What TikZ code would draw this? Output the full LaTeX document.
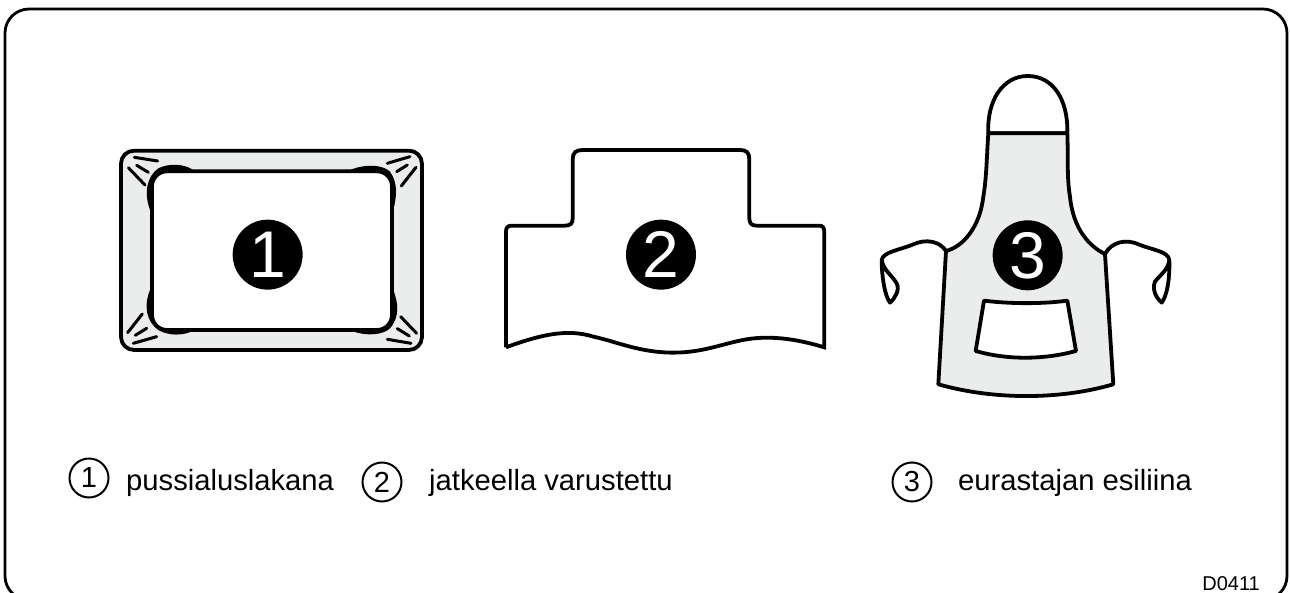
\documentclass[tikz,border=0pt]{standalone}
\usepackage{fontspec}
\setmainfont{Liberation Sans}
\definecolor{apron}{HTML}{EBEDEC}
\tikzset{
  ink/.style={line width=3.8pt,line join=round,line cap=round},
  wrinkle/.style={line width=3pt,line cap=round},
  badge/.style={circle,fill=black,text=white,minimum size=70pt,inner sep=0pt,font=\fontsize{66}{66}\selectfont},
  keyring/.style={circle,draw=black,line width=2pt,minimum size=39pt,inner sep=0pt,font=\fontsize{29}{29}\selectfont},
  keytext/.style={anchor=base west,inner sep=0pt,font=\fontsize{29.2}{29.2}\selectfont}
}
\begin{document}
\begin{tikzpicture}[x=1pt,y=-1pt]
\useasboundingbox (0,0) rectangle (1290,593);
\draw[line width=2.8pt,rounded corners=24pt] (5,9) rectangle (1287,600);
% fig 1
\begin{scope}[shift={(100,130)},x=0.3333pt,y=-0.3333pt]
\draw[ink,fill=apron,rounded corners=13pt] (63,62) rectangle (966,660);
\fill (152,245) .. controls (130,190) and (140,140) .. (175,115) .. controls (205,100) and (250,100) .. (280,120) -- (300,200) -- cycle;
\fill (750,120) .. controls (800,100) and (850,105) .. (870,125) .. controls (895,160) and (890,200) .. (880,240) -- (700,200) -- cycle;
\fill (150,480) .. controls (130,530) and (140,575) .. (175,600) .. controls (205,618) and (250,618) .. (280,602) -- (300,500) -- cycle;
\fill (752,602) .. controls (800,620) and (850,615) .. (870,595) .. controls (900,560) and (895,520) .. (880,480) -- (700,500) -- cycle;
\draw[ink,fill=white,rounded corners=15pt] (156,124) rectangle (876,600);
\draw[wrinkle] (103,82) -- (173,93);
\draw[wrinkle] (110,106) -- (145,127);
\draw[wrinkle] (85,113) -- (135,165);
\draw[wrinkle] (862,100) -- (930,80);
\draw[wrinkle] (890,125) -- (922,105);
\draw[wrinkle] (904,168) -- (948,112);
\draw[wrinkle] (83,608) -- (127,552);
\draw[wrinkle] (106,616) -- (140,595);
\draw[wrinkle] (100,640) -- (170,620);
\draw[wrinkle] (902,560) -- (950,610);
\draw[wrinkle] (892,596) -- (928,618);
\draw[wrinkle] (862,628) -- (933,640);
\node[badge] (b1) at (503,374) {1};
\end{scope}
% fig 2
\begin{scope}[shift={(490,140)},x=0.3333pt,y=-0.3333pt]
\draw[ink,line join=miter,line cap=butt] (48,622) -- (48,275) .. controls (48,263) and (53,257) .. (65,257) -- (225,257) .. controls (242,257) and (248,250) .. (248,235) -- (248,58) .. controls (248,38) and (258,30) .. (278,30) -- (750,30) .. controls (770,30) and (778,38) .. (778,58) -- (778,235) .. controls (778,250) and (785,257) .. (800,257) -- (988,257) .. controls (998,257) and (1003,263) .. (1003,275) -- (1003,622) .. controls (930,600) and (850,585) .. (770,598) .. controls (700,610) and (640,638) .. (550,638) .. controls (450,638) and (380,605) .. (310,590) .. controls (230,565) and (150,585) .. (48,622);
\node[badge] (b2) at (513,344) {2};
\end{scope}
% fig 3
\begin{scope}[shift={(860,50)},x=0.3333pt,y=-0.3333pt]
\draw[ink] (258,603) .. controls (240,575) and (200,565) .. (160,583) .. controls (120,600) and (70,605) .. (65,630) .. controls (65,680) and (75,740) .. (90,758) .. controls (105,745) and (120,720) .. (110,700) .. controls (95,675) and (70,660) .. (65,630);
\draw[ink] (735,612) .. controls (755,575) and (800,565) .. (840,585) .. controls (880,600) and (925,605) .. (928,630) .. controls (930,690) and (920,740) .. (905,758) .. controls (890,745) and (875,720) .. (885,695) .. controls (900,675) and (925,660) .. (928,630);
\draw[ink,fill=white] (385,250) .. controls (380,150) and (430,78) .. (503,78) .. controls (580,78) and (625,150) .. (622,250) -- cycle;
\draw[ink,fill=apron] (385,250) .. controls (380,320) and (380,380) .. (370,440) .. controls (360,530) and (310,590) .. (258,603) -- (235,1003) .. controls (400,1050) and (600,1050) .. (760,1003) -- (735,612) .. controls (690,590) and (640,540) .. (630,440) .. controls (620,380) and (625,320) .. (622,250) -- cycle;
\draw[ink,fill=white] (372,752) .. controls (450,762) and (550,762) .. (622,752) -- (648,903) .. controls (550,930) and (440,930) .. (347,903) -- cycle;
\node[badge] (b3) at (503,616) {3};
\end{scope}
% legend
\node[keyring] (k1) at (89,478) {1};
\node[keyring] (k2) at (382,482) {2};
\node[keyring] (k3) at (912,482) {3};
\node[keytext] (t1) at (126,490) {pussialuslakana};
\node[keytext] (t2) at (429,490) {jatkeella varustettu};
\node[keytext] (t3) at (958,490) {eurastajan esiliina};
\node[anchor=base east,inner sep=0pt,font=\fontsize{20}{20}\selectfont] (code) at (1260,590) {D0411};
\end{tikzpicture}
\end{document}
